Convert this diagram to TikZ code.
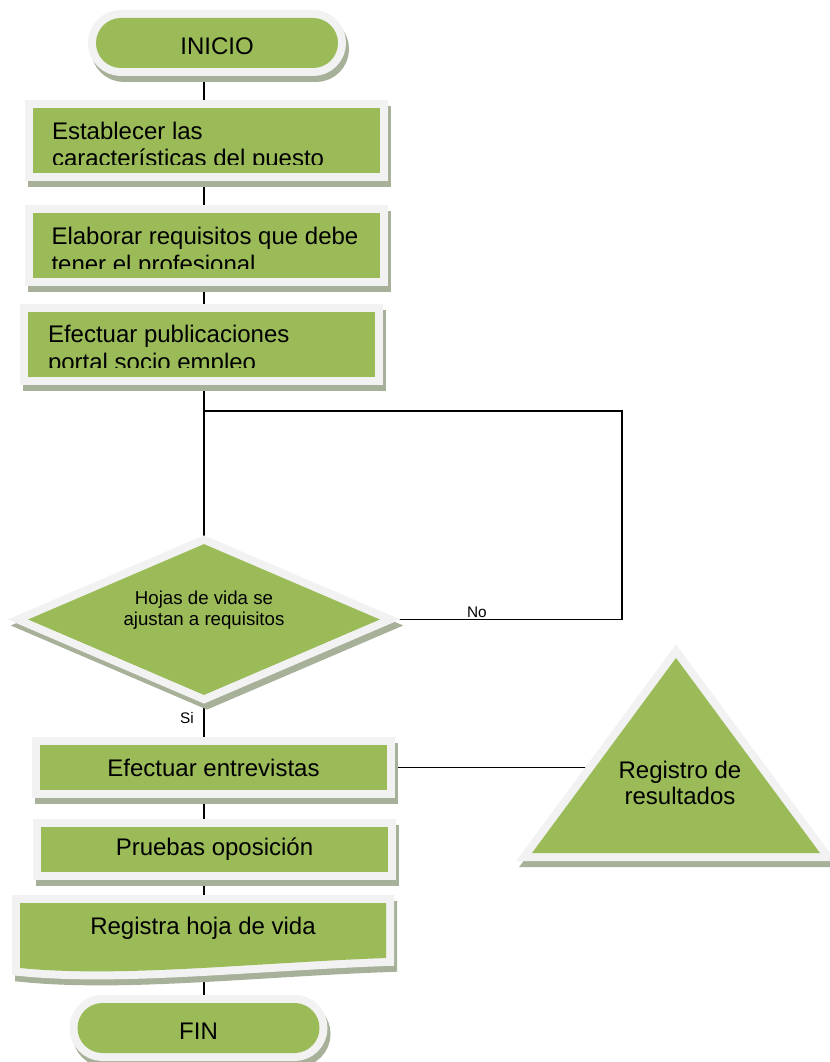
\documentclass[tikz,border=0pt]{standalone}
\usepackage{fontspec}
\setmainfont{Liberation Sans}
\usetikzlibrary{positioning,shapes.geometric,backgrounds,calc}
\definecolor{fgreen}{HTML}{9BBB59}
\definecolor{fframe}{HTML}{F2F2F2}
\definecolor{fshadow}{HTML}{A7B098}

\begin{document}
\begin{tikzpicture}[x=0.75pt, y=-0.75pt, font=\fontsize{18}{20.6}\selectfont,
  framed/.style={fill=fgreen, line join=miter,
    preaction={draw=fshadow, fill=fshadow, line width=12pt, line join=miter,
      transform canvas={shift={(2.25pt,-4.5pt)}}},
    preaction={draw=fframe, line width=12pt, line join=miter}},
  term/.style={framed, rectangle, rounded corners=18.75pt, minimum width=181.5pt, minimum height=37.5pt, inner sep=0pt, text height=17pt, text depth=0pt},
  proc/.style={framed, rectangle, minimum width=260.25pt, inner sep=0pt},
  decis/.style={framed, diamond, aspect=2.33, minimum width=264pt, minimum height=113.25pt, inner sep=0pt, align=center, font=\fontsize{14}{15.75}\selectfont, text depth=17pt},
  boxtxt/.style={anchor=base west, inner sep=0pt},
  lbl/.style={font=\fontsize{11.5}{13}\selectfont, inner sep=1pt},
  conn/.style={line width=1.3pt}]
\useasboundingbox (0,0) rectangle (830,1062);
\begin{scope}[on background layer]
  \fill[white] (0,0) rectangle (830,1062);
\end{scope}
\coordinate (spine) at (204,0);
\coordinate (jn) at (204,411);
% start and the three first steps
\node[term] (ini) at (217,43) {INICIO};
\node[proc, minimum height=48.75pt] (est) at (206.5,140.5) {};
\node[proc, minimum height=48.75pt] (ela) at (206,245.5) {};
\node[proc, minimum height=48.75pt] (pub) at (201.5,344.5) {};
\begin{scope}
  \clip (est.north west) rectangle ($(est.south east)+(0,-9)$);
  \node[boxtxt] (estT) at ($(est.north west)+(19,31.5)$) {\parbox[t]{250pt}{Establecer las\\características del puesto}};
\end{scope}
\begin{scope}
  \clip (ela.north west) rectangle ($(ela.south east)+(0,-10)$);
  \node[boxtxt] (elaT) at ($(ela.north west)+(19,32)$) {\parbox[t]{250pt}{Elaborar requisitos que debe\\tener el profesional}};
\end{scope}
\begin{scope}
  \clip (pub.north west) rectangle ($(pub.south east)+(0,-10)$);
  \node[boxtxt] (pubT) at ($(pub.north west)+(20,31)$) {\parbox[t]{250pt}{Efectuar publicaciones\\portal socio empleo}};
\end{scope}
% decision
\node[decis] (dec) at (204,619.5) {Hojas de vida se\\ajustan a requisitos};
% selection steps
\node[proc, minimum height=33.75pt] (ent) at (213.5,767.5) {Efectuar entrevistas};
\node[proc, minimum height=33.75pt] (pru) at (214.5,849.5) {Pruebas oposición};
\path[framed] (20,903) -- (386,903) -- (386,958) .. controls (250,963) and (120,978) .. (20,968) -- cycle;
\node[inner sep=0pt, anchor=base] (reg) at (203,934) {Registra hoja de vida};
\node[term] (fin) at (198.5,1028) {FIN};
\path[framed] (676,658) -- (820,853) -- (532,853) -- cycle;
\node[align=center, font=\fontsize{18}{19.5}\selectfont] (trg) at (680,783) {Registro de\\resultados};
% connectors behind the shapes
\begin{scope}[on background layer]
\draw[conn] (ini.south -| spine) -- (est.north -| spine);
\draw[conn] (est.south -| spine) -- (ela.north -| spine);
\draw[conn] (ela.south -| spine) -- (pub.north -| spine);
\draw[conn] (pub.south -| spine) -- (dec.north);
\draw[conn] (jn) -- ++(418,0) |- (dec.east) node[lbl, above, pos=0.8] {No};
\draw[conn] (dec.south) -- (ent.north -| spine) node[lbl, left, pos=0.46, xshift=-6pt] {Si};
\draw[conn] (ent.east) -- (ent.east -| trg.west);
\draw[conn] (ent.south -| spine) -- (pru.north -| spine);
\draw[conn] (pru.south -| spine) -- (reg.north -| spine);
\draw[conn] (reg.south -| spine) -- (fin.north -| spine);
\end{scope}
\end{tikzpicture}
\end{document}
